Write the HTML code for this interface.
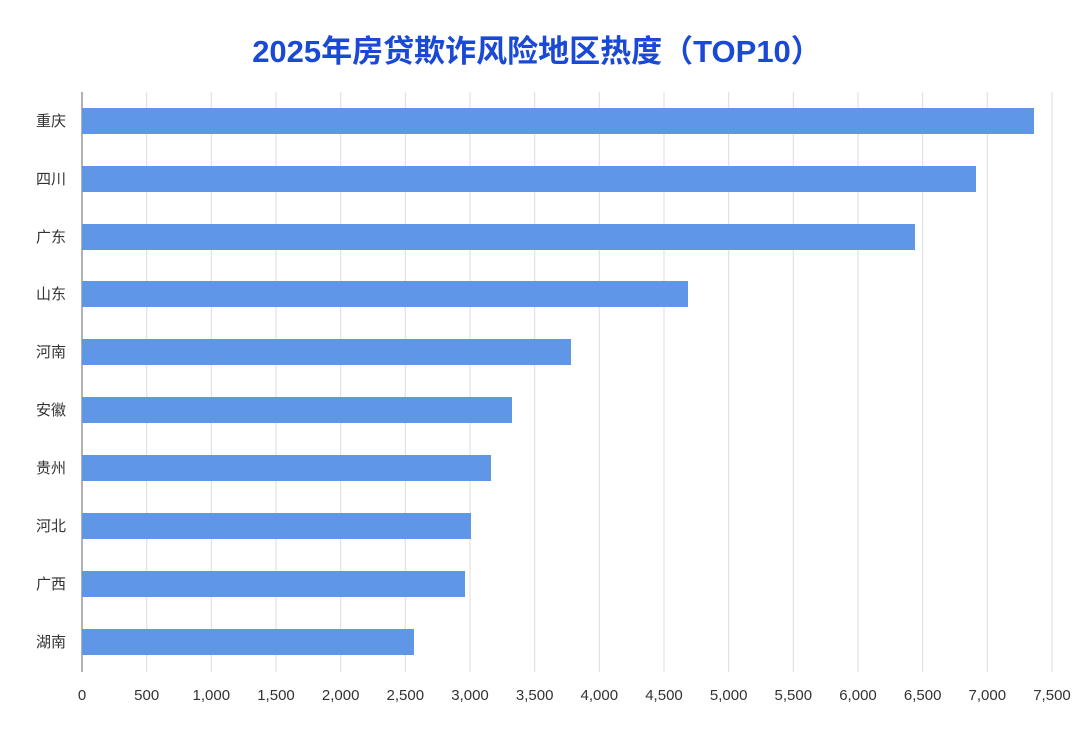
<!DOCTYPE html>
<html><head><meta charset="utf-8"><style>
body{margin:0;background:#fff;}
svg text{font-family:"Liberation Sans","Noto Sans CJK SC",sans-serif;}
</style></head><body>
<svg width="1080" height="736" xmlns="http://www.w3.org/2000/svg">
<rect width="1080" height="736" fill="#fff"/>
<text x="537" y="62" text-anchor="middle" font-size="31" font-weight="bold" fill="#1a49d6">2025年房贷欺诈风险地区热度（TOP10）</text>
<g stroke="#dcdcdc" stroke-width="1">
<line x1="146.7" y1="92" x2="146.7" y2="672"/><line x1="211.3" y1="92" x2="211.3" y2="672"/>
<line x1="276" y1="92" x2="276" y2="672"/><line x1="340.7" y1="92" x2="340.7" y2="672"/>
<line x1="405.3" y1="92" x2="405.3" y2="672"/><line x1="470" y1="92" x2="470" y2="672"/>
<line x1="534.7" y1="92" x2="534.7" y2="672"/><line x1="599.3" y1="92" x2="599.3" y2="672"/>
<line x1="664" y1="92" x2="664" y2="672"/><line x1="728.7" y1="92" x2="728.7" y2="672"/>
<line x1="793.3" y1="92" x2="793.3" y2="672"/><line x1="858" y1="92" x2="858" y2="672"/>
<line x1="922.7" y1="92" x2="922.7" y2="672"/><line x1="987.3" y1="92" x2="987.3" y2="672"/>
<line x1="1052" y1="92" x2="1052" y2="672"/>
</g>
<line x1="82" y1="92" x2="82" y2="672" stroke="#666" stroke-width="1"/>
<g fill="#6096e6">
<rect x="82" y="108" width="952" height="26"/>
<rect x="82" y="166" width="894" height="26"/>
<rect x="82" y="224" width="833" height="26"/>
<rect x="82" y="281" width="606" height="26"/>
<rect x="82" y="339" width="489" height="26"/>
<rect x="82" y="397" width="430" height="26"/>
<rect x="82" y="455" width="409" height="26"/>
<rect x="82" y="513" width="389" height="26"/>
<rect x="82" y="571" width="383" height="26"/>
<rect x="82" y="629" width="332" height="26"/>
</g>
<g font-size="15" fill="#333" text-anchor="end">
<text x="66" y="126">重庆</text><text x="66" y="184">四川</text><text x="66" y="242">广东</text>
<text x="66" y="299">山东</text><text x="66" y="357">河南</text><text x="66" y="415">安徽</text>
<text x="66" y="473">贵州</text><text x="66" y="531">河北</text><text x="66" y="589">广西</text>
<text x="66" y="647">湖南</text>
</g>
<g font-size="15" fill="#333" text-anchor="middle">
<text x="82" y="700">0</text><text x="146.7" y="700">500</text><text x="211.3" y="700">1,000</text>
<text x="276" y="700">1,500</text><text x="340.7" y="700">2,000</text><text x="405.3" y="700">2,500</text>
<text x="470" y="700">3,000</text><text x="534.7" y="700">3,500</text><text x="599.3" y="700">4,000</text>
<text x="664" y="700">4,500</text><text x="728.7" y="700">5,000</text><text x="793.3" y="700">5,500</text>
<text x="858" y="700">6,000</text><text x="922.7" y="700">6,500</text><text x="987.3" y="700">7,000</text>
<text x="1052" y="700">7,500</text>
</g>
</svg>
</body></html>
